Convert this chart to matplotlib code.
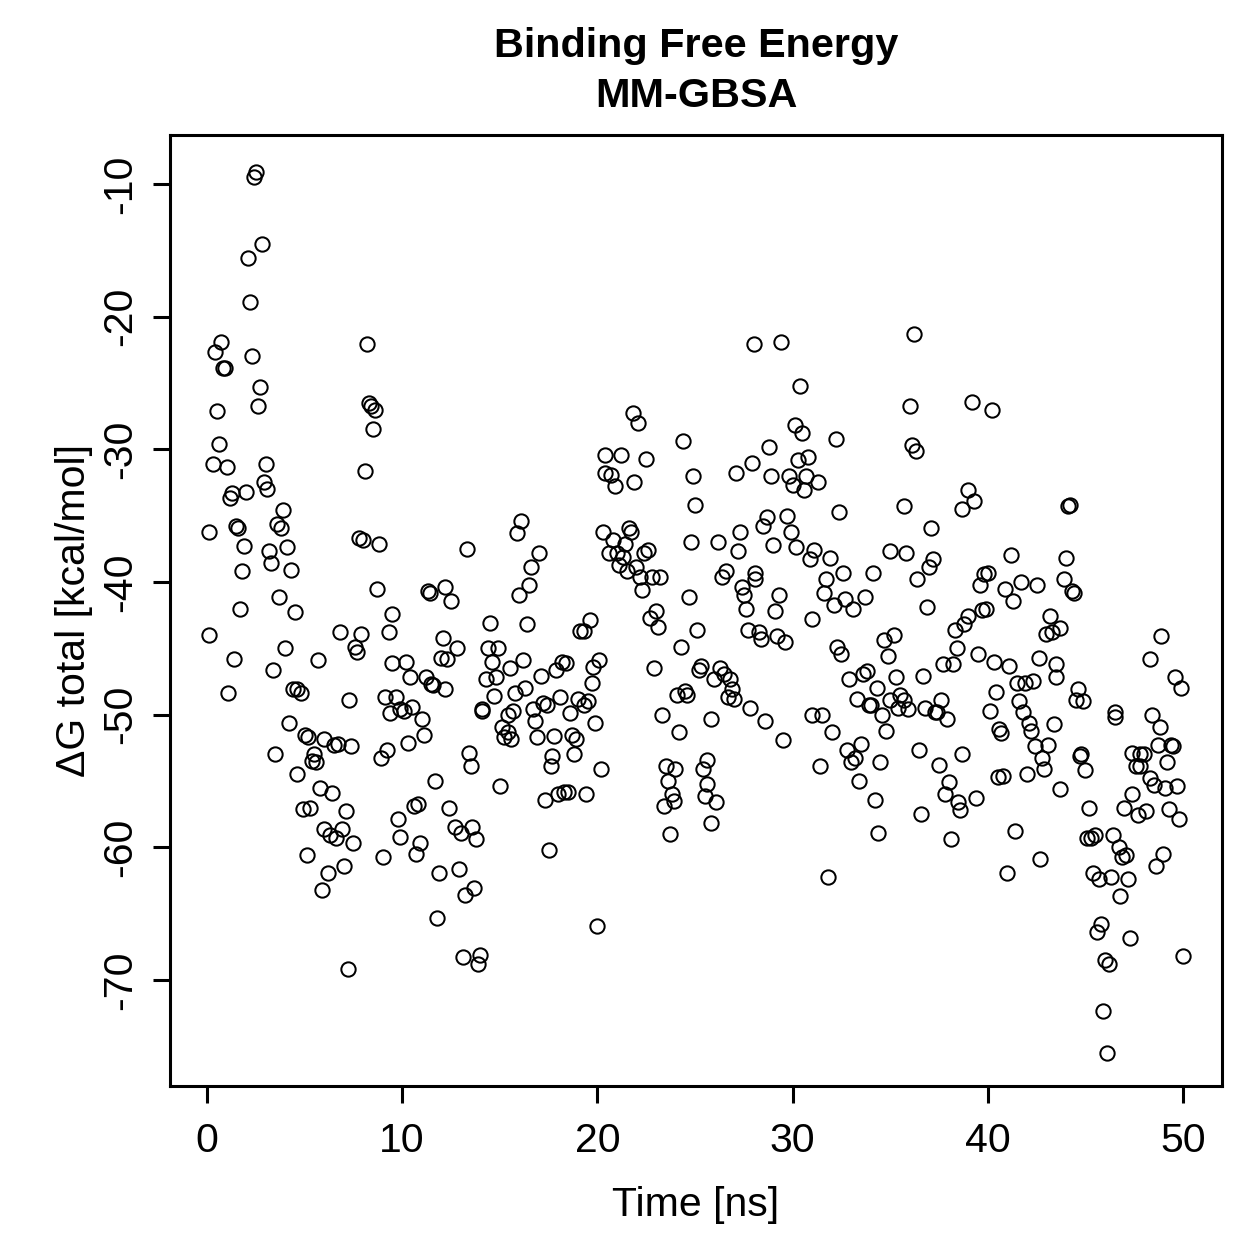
import matplotlib
matplotlib.use("Agg")
import matplotlib.pyplot as plt

title_lines = ["Binding Free Energy", "MM-GBSA"]
x_label = "Time [ns]"
y_label = "\u0394G total [kcal/mol]"
x_ticks = [0, 10, 20, 30, 40, 50]
y_ticks = [-10, -20, -30, -40, -50, -60, -70]

time_ns = [
    0.1, 0.1, 0.3, 0.4, 0.5, 0.6, 0.7, 0.8, 0.9, 1.0, 1.1, 1.2, 1.3, 1.4, 1.5, 1.6, 1.7, 1.8, 1.9, 2.0,
    2.1, 2.2, 2.3, 2.4, 2.5, 2.6, 2.7, 2.8, 2.9, 3.0, 3.1, 3.2, 3.3, 3.4, 3.5, 3.6, 3.7, 3.8, 3.9, 4.0,
    4.1, 4.2, 4.3, 4.4, 4.6, 4.6, 4.5, 4.8, 4.9, 5.0, 5.1, 5.2, 5.3, 5.4, 5.5, 5.6, 5.7, 5.8, 5.9, 6.0,
    6.0, 6.2, 6.3, 6.4, 6.5, 6.6, 6.7, 6.8, 6.9, 7.0, 7.1, 7.2, 7.3, 7.4, 7.5, 7.6, 7.7, 7.8, 7.9, 8.0,
    8.1, 8.2, 8.3, 8.4, 8.5, 8.6, 8.7, 8.8, 8.9, 9.0, 9.1, 9.2, 9.3, 9.4, 9.5, 9.5, 9.7, 9.8, 9.9, 9.9,
    10.1, 10.2, 10.3, 10.4, 10.5, 10.6, 10.7, 10.8, 10.9, 11.0, 11.1, 11.2, 11.3, 11.4, 11.5, 11.6, 11.7, 11.8, 11.9, 12.0,
    12.1, 12.2, 12.2, 12.3, 12.4, 12.5, 12.7, 12.8, 12.9, 13.0, 13.1, 13.2, 13.3, 13.4, 13.5, 13.6, 13.7, 13.8, 13.9, 14.0,
    14.1, 14.1, 14.3, 14.4, 14.5, 14.6, 14.7, 14.8, 14.9, 15.0, 15.1, 15.2, 15.4, 15.4, 15.5, 15.6, 15.7, 15.8, 15.9, 16.0,
    16.1, 16.2, 16.3, 16.4, 16.5, 16.6, 16.7, 16.8, 16.9, 17.0, 17.1, 17.2, 17.3, 17.4, 17.5, 17.6, 17.7, 17.8, 17.9, 18.0,
    18.1, 18.2, 18.3, 18.4, 18.5, 18.6, 18.7, 18.8, 18.9, 19.0, 19.1, 19.3, 19.3, 19.4, 19.5, 19.6, 19.7, 19.8, 19.9, 20.0,
    20.1, 20.2, 20.3, 20.4, 20.4, 20.6, 20.7, 20.8, 20.9, 21.0, 21.1, 21.2, 21.3, 21.4, 21.5, 21.6, 21.7, 21.8, 21.9, 22.0,
    22.1, 22.2, 22.3, 22.4, 22.5, 22.6, 22.7, 23.0, 23.1, 22.8, 22.9, 23.2, 23.3, 23.4, 23.5, 23.6, 23.7, 23.8, 23.9, 24.0,
    24.1, 24.2, 24.3, 24.4, 24.5, 24.6, 24.7, 24.8, 24.9, 25.0, 25.1, 25.2, 25.3, 25.4, 25.5, 25.6, 25.6, 25.8, 25.8, 26.0,
    26.1, 26.2, 26.3, 26.4, 26.5, 26.6, 26.7, 26.8, 26.9, 27.0, 27.1, 27.2, 27.3, 27.4, 27.5, 27.6, 27.7, 27.8, 27.9, 28.0,
    28.1, 28.1, 28.3, 28.4, 28.5, 28.6, 28.7, 28.8, 28.9, 29.0, 29.1, 29.2, 29.3, 29.4, 29.5, 29.6, 29.7, 29.8, 29.9, 30.0,
    30.1, 30.2, 30.3, 30.4, 30.5, 30.6, 30.7, 30.8, 30.9, 31.0, 31.0, 31.1, 31.3, 31.4, 31.5, 31.6, 31.7, 31.8, 31.9, 32.0,
    32.1, 32.2, 32.3, 32.4, 32.5, 32.6, 32.7, 32.8, 32.9, 33.0, 33.1, 33.2, 33.3, 33.4, 33.5, 33.6, 33.7, 33.8, 33.9, 34.0,
    34.1, 34.2, 34.3, 34.4, 34.5, 34.6, 34.7, 34.8, 34.9, 35.0, 35.0, 35.2, 35.3, 35.4, 35.5, 35.7, 35.7, 35.8, 35.9, 36.0,
    36.1, 36.2, 36.3, 36.4, 36.5, 36.6, 36.7, 36.8, 36.9, 37.0, 37.1, 37.2, 37.3, 37.4, 37.5, 37.6, 37.7, 37.8, 37.9, 38.0,
    38.1, 38.2, 38.3, 38.4, 38.5, 38.6, 38.7, 38.7, 38.8, 39.0, 39.0, 39.2, 39.3, 39.4, 39.5, 39.6, 39.7, 39.9, 39.8, 40.0,
    40.1, 40.2, 40.3, 40.4, 40.5, 40.6, 40.7, 40.8, 40.9, 41.0, 41.1, 41.2, 41.3, 41.4, 41.5, 41.6, 41.7, 41.8, 41.9, 42.0,
    42.1, 42.2, 42.3, 42.4, 42.5, 42.6, 42.7, 42.8, 42.9, 43.0, 43.1, 43.2, 43.3, 43.4, 43.5, 43.5, 43.7, 43.7, 43.9, 44.0,
    44.1, 44.2, 44.3, 44.4, 44.5, 44.6, 44.7, 44.8, 44.9, 45.0, 45.1, 45.2, 45.3, 45.4, 45.5, 45.6, 45.7, 45.8, 45.9, 46.0,
    46.1, 46.2, 46.3, 46.4, 46.5, 46.5, 46.7, 46.8, 46.9, 47.0, 47.1, 47.2, 47.3, 47.4, 47.4, 47.6, 47.7, 47.8, 47.8, 48.0,
    48.1, 48.3, 48.3, 48.4, 48.5, 48.6, 48.7, 48.8, 48.9, 49.0, 49.1, 49.2, 49.3, 49.4, 49.5, 49.6, 49.7, 49.8, 49.9, 50.0,
]

dg_total = [
    -44.0, -36.2, -31.1, -22.7, -27.1, -29.6, -21.9, -23.9, -23.9, -31.3, -48.4, -33.7, -33.3, -45.8, -35.8, -35.9, -42.0, -39.2, -37.3, -33.2,
    -15.6, -18.9, -23.0, -9.5, -9.1, -26.7, -25.3, -14.5, -32.5, -31.1, -33.0, -37.7, -38.6, -46.6, -53.0, -35.6, -41.1, -35.9, -34.6, -45.0,
    -37.4, -50.6, -39.1, -48.1, -54.5, -48.1, -42.3, -48.4, -57.1, -51.5, -60.6, -51.7, -57.0, -53.5, -53.0, -53.6, -45.9, -55.5, -63.2, -51.8,
    -58.6, -61.9, -59.1, -55.9, -52.3, -59.3, -52.2, -43.8, -58.6, -61.4, -57.3, -69.2, -48.9, -52.4, -59.7, -44.9, -45.3, -36.7, -43.9, -36.8,
    -31.6, -22.1, -26.5, -26.7, -28.5, -27.0, -40.5, -37.1, -53.3, -60.7, -48.7, -52.7, -43.8, -49.9, -42.4, -46.1, -48.7, -57.9, -49.6, -59.2,
    -49.7, -46.0, -52.1, -47.2, -49.4, -56.9, -60.5, -56.7, -59.7, -50.3, -51.5, -47.2, -40.7, -40.8, -47.7, -47.8, -55.0, -65.3, -61.9, -45.7,
    -44.2, -40.4, -48.1, -45.8, -57.0, -41.4, -58.5, -45.0, -61.6, -58.9, -68.3, -63.6, -37.5, -52.9, -53.9, -58.5, -63.1, -59.4, -68.8, -68.1,
    -49.6, -49.7, -47.3, -45.0, -43.1, -46.0, -48.6, -47.2, -45.0, -55.4, -50.9, -51.7, -50.0, -51.3, -46.5, -51.8, -49.7, -48.4, -36.3, -41.0,
    -35.4, -45.9, -48.0, -43.2, -40.2, -38.9, -49.6, -50.5, -51.7, -37.8, -47.1, -49.1, -56.4, -49.3, -60.2, -53.9, -53.1, -51.6, -46.6, -56.0,
    -48.7, -46.0, -55.8, -46.1, -55.8, -49.9, -51.5, -53.0, -51.8, -48.8, -43.7, -43.7, -49.3, -56.0, -49.0, -42.9, -47.6, -46.4, -50.6, -65.9,
    -45.9, -54.1, -36.2, -30.4, -31.8, -37.8, -31.9, -36.8, -32.8, -37.8, -38.7, -30.4, -38.1, -37.1, -39.2, -35.9, -36.2, -27.3, -32.5, -38.9,
    -28.0, -39.6, -40.6, -37.8, -30.7, -37.6, -42.7, -42.2, -43.4, -39.6, -46.5, -39.6, -50.0, -56.9, -53.9, -55.0, -59.0, -56.0, -56.5, -54.1,
    -48.5, -51.3, -44.9, -29.4, -48.2, -48.5, -41.1, -37.0, -32.0, -34.2, -43.6, -46.6, -46.3, -54.1, -56.1, -53.4, -55.2, -58.2, -50.3, -47.3,
    -56.6, -37.0, -46.5, -39.6, -46.9, -39.2, -48.7, -47.3, -48.1, -48.8, -31.8, -37.7, -36.2, -40.4, -41.0, -42.0, -43.6, -49.5, -31.0, -22.1,
    -39.3, -39.8, -43.8, -44.3, -35.8, -50.5, -35.1, -29.8, -32.0, -37.2, -42.2, -44.1, -41.0, -21.9, -51.9, -44.5, -35.0, -32.0, -36.2, -32.7,
    -28.2, -37.4, -30.8, -25.2, -28.8, -33.1, -32.0, -30.6, -38.3, -42.8, -50.0, -37.6, -32.5, -53.9, -50.0, -40.8, -39.8, -62.2, -38.2, -51.3,
    -41.7, -29.2, -44.9, -34.7, -45.4, -39.3, -41.3, -52.7, -47.3, -53.6, -42.0, -53.3, -48.8, -55.0, -52.2, -46.9, -41.1, -46.7, -49.3, -49.3,
    -39.3, -56.4, -48.0, -58.9, -53.6, -50.0, -44.4, -51.2, -45.6, -37.7, -48.9, -44.0, -47.2, -49.5, -48.5, -34.3, -48.9, -37.8, -49.6, -26.7,
    -29.7, -21.3, -30.1, -39.8, -52.7, -57.5, -47.1, -49.5, -41.9, -38.9, -35.9, -38.3, -49.8, -49.8, -53.8, -48.9, -46.2, -56.0, -50.3, -55.1,
    -59.4, -46.2, -43.6, -45.0, -56.6, -57.2, -34.5, -53.0, -43.2, -33.1, -42.6, -26.4, -33.9, -56.3, -45.4, -40.2, -42.1, -42.0, -39.4, -39.3,
    -49.7, -27.0, -46.0, -48.3, -54.7, -51.1, -51.4, -54.6, -40.5, -61.9, -46.3, -38.0, -41.4, -58.8, -47.6, -49.0, -40.0, -49.8, -47.6, -54.5,
    -50.6, -51.2, -47.5, -52.4, -40.2, -45.7, -60.9, -53.3, -54.1, -43.9, -52.3, -42.6, -43.8, -50.7, -46.2, -47.2, -43.5, -55.6, -39.8, -38.2,
    -34.3, -34.2, -40.7, -40.8, -48.9, -48.1, -53.1, -53.0, -49.0, -54.2, -59.3, -57.0, -59.3, -61.9, -59.1, -66.4, -62.4, -65.8, -72.3, -68.5,
    -75.5, -68.8, -62.2, -59.1, -49.8, -50.2, -60.0, -63.7, -60.7, -57.0, -60.6, -62.4, -66.8, -52.9, -56.0, -53.9, -57.6, -53.0, -53.9, -53.0,
    -57.3, -45.8, -54.8, -50.0, -55.3, -61.4, -52.3, -50.9, -44.1, -60.5, -55.5, -53.6, -57.1, -52.3, -52.4, -47.2, -55.4, -57.9, -48.0, -68.2,
]

plt.rcParams['font.family'] = ['Liberation Sans', 'DejaVu Sans']

W = 1259
fig = plt.figure(figsize=(W / 100, W / 100), dpi=100)
ax = fig.add_axes([170 / W, 1 - 1086 / W, (1222 - 170) / W, (1086 - 135) / W])

ax.plot(time_ns, dg_total, linestyle='none', marker='o', markersize=10.3,
        markerfacecolor='none', markeredgecolor='black', markeredgewidth=1.45)

ax.set_xlim(-1.895, 52.0)
ax.set_ylim(-77.99, -6.31)
ax.set_xticks(x_ticks)
ax.set_yticks(y_ticks)
ax.set_xticklabels([str(t) for t in x_ticks])
ax.set_yticklabels([str(t) for t in y_ticks], rotation=90, va='center')

for s in ax.spines.values():
    s.set_linewidth(2.2)
ax.tick_params(axis='both', direction='out', length=12, width=2.2, labelsize=29.5)
ax.tick_params(axis='x', pad=14)
ax.tick_params(axis='y', pad=10)

ax.set_xlabel(x_label, fontsize=29.5, labelpad=19)
ax.set_ylabel(y_label, fontsize=29.5, labelpad=6)

fig.text(696 / W, 1 - 46 / W, title_lines[0], ha='center', va='center', fontsize=29.8, fontweight='bold')
fig.text(696 / W, 1 - 96 / W, title_lines[1], ha='center', va='center', fontsize=29.8, fontweight='bold')

fig.savefig("out.png", dpi=100)
